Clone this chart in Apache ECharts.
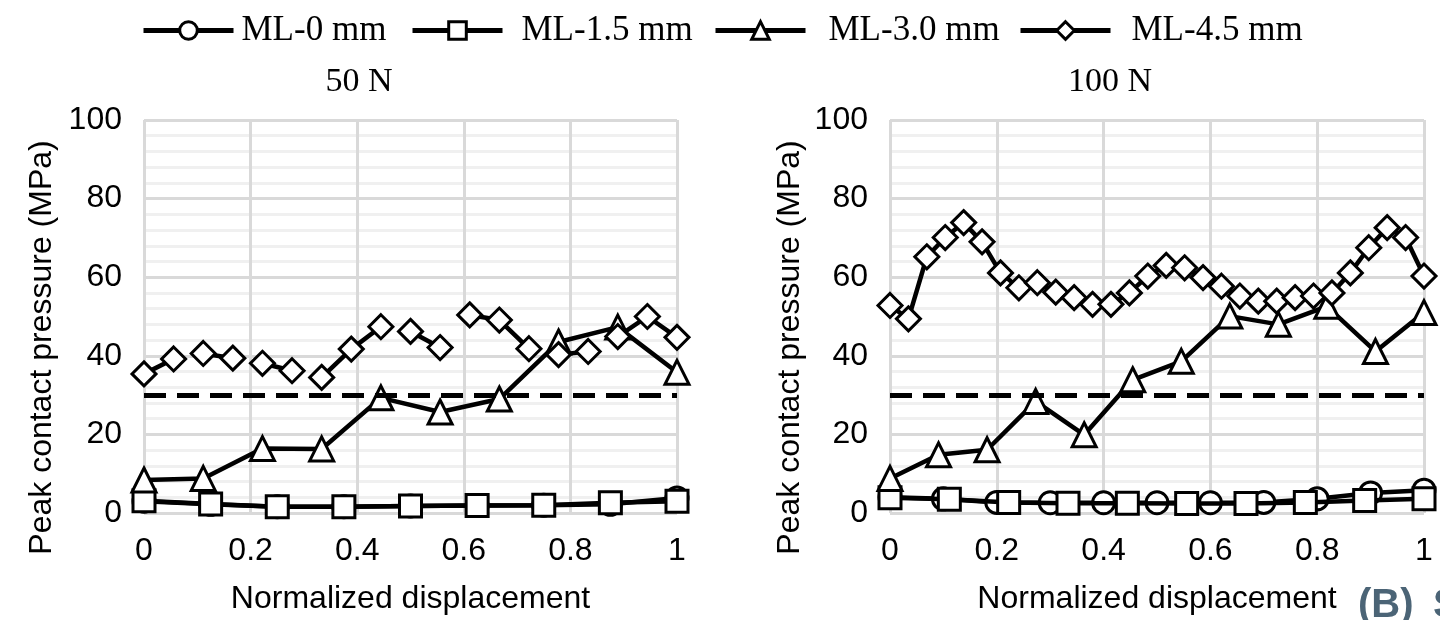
<!DOCTYPE html>
<html>
<head>
<meta charset="utf-8">
<script src="https://cdn.jsdelivr.net/npm/echarts@6/dist/echarts.min.js"></script>
<style>
  html, body { margin: 0; padding: 0; background: #fff; }
  #chart { width: 1440px; height: 620px; }
</style>
</head>
<body>
<div id="chart"></div>
<script>
var chartDom = document.getElementById('chart');
var myChart = echarts.init(chartDom);

var seriesNames = ['ML-0 mm', 'ML-1.5 mm', 'ML-3.0 mm', 'ML-4.5 mm'];
var panelTitles = ['50 N', '100 N'];
var xTicks = [0, 0.2, 0.4, 0.6, 0.8, 1];
var threshold = 30;

// 50 N panel
var ml0_50 = [3.0, 2.2, 1.6, 1.6, 1.8, 1.9, 2.0, 2.2, 3.8];
var ml15_50 = [3.1, 2.3, 1.6, 1.6, 1.8, 1.9, 2.0, 2.6, 3.0];
var ml30_50 = [8.4, 8.8, 16.4, 16.3, 29.3, 25.7, 29.0, 43.5, 47.3, 35.8];
var ml45_50 = [35.4, 39.2, 40.6, 39.4, 38.1, 36.2, 34.5, 41.7, 47.4, 46.2,
  42.1, 50.4, 49.1, 41.8, 40.3, 41.1, 44.9, 50.0, 44.7];
// indices where the ML-4.5 line is broken before the point
var ml45_50_breaks = [2, 4, 6, 9, 11, 14, 16];

// 100 N panel
var ml0_100 = [4.0, 3.6, 2.7, 2.6, 2.6, 2.6, 2.6, 2.7, 3.6, 5.1, 5.8];
var ml15_100 = [3.9, 3.5, 2.7, 2.5, 2.5, 2.4, 2.4, 2.7, 3.2, 3.6];
var ml30_100 = [8.8, 14.8, 16.1, 28.4, 19.9, 33.9, 38.6, 50.1, 48.0, 52.6, 41.1, 51.0];
var ml45_100 = [52.8, 49.4, 65.2, 70.1, 73.9, 69.0, 61.1, 57.3, 58.6, 56.2,
  54.8, 53.1, 53.1, 56.0, 60.3, 63.0, 62.4, 59.9, 57.7, 55.2,
  53.9, 53.9, 54.8, 55.2, 56.0, 61.1, 67.5, 72.6, 70.1, 60.3];

// values are evenly spaced over the normalized displacement 0..1
function toPairs(vals, breaks) {
  var out = [];
  var n = vals.length - 1;
  vals.forEach(function (v, i) {
    if (breaks && breaks.indexOf(i) >= 0) out.push(['-', '-']);
    out.push([i / n, v]);
  });
  return out;
}

var symbols = ['circle', 'rect', 'triangle', 'diamond'];
var symbolSizes = [22, 22, 24, 24];
var fontAxis = 'Liberation Sans';
var fontSerif = 'Liberation Serif';

function makeSeries(name, idx, data, panel) {
  var s = {
    name: name,
    type: 'line',
    xAxisIndex: panel,
    yAxisIndex: panel,
    data: data,
    symbol: symbols[idx],
    symbolSize: symbolSizes[idx],
    showAllSymbol: true,
    connectNulls: false,
    clip: false,
    lineStyle: { color: '#000', width: 4.5 },
    itemStyle: { color: '#fff', borderColor: '#000', borderWidth: 3 },
    z: 2 + idx
  };
  if (idx === 0) {
    s.markLine = {
      silent: true,
      symbol: ['none', 'none'],
      label: { show: false },
      lineStyle: { color: '#000', width: 5, type: [22, 11] },
      data: [{ yAxis: threshold }]
    };
  }
  return s;
}

function xAxis(panel) {
  return {
    type: 'value',
    gridIndex: panel,
    min: 0, max: 1, interval: 0.2,
    name: 'Normalized displacement',
    nameLocation: 'middle',
    nameGap: 70,
    nameTextStyle: { fontFamily: fontAxis, fontSize: 32, color: '#000' },
    axisLine: { show: false },
    axisTick: { show: false },
    axisLabel: {
      fontFamily: fontAxis, fontSize: 32, color: '#000', margin: 22,
      formatter: function (v) { return xTicks.indexOf(v) >= 0 ? String(v) : ''; }
    },
    splitLine: { show: true, lineStyle: { color: '#d9d9d9', width: 3 } }
  };
}

function yAxis(panel, gap) {
  return {
    type: 'value',
    gridIndex: panel,
    min: 0, max: 100, interval: 20,
    name: 'Peak contact pressure (MPa)',
    nameLocation: 'middle',
    nameGap: gap,
    nameTextStyle: { fontFamily: fontAxis, fontSize: 32, color: '#000', padding: [0, 62, 0, 0] },
    axisLine: { show: false },
    axisTick: { show: false },
    axisLabel: { fontFamily: fontAxis, fontSize: 32, color: '#000', margin: 22 },
    splitLine: { show: true, lineStyle: { color: '#d9d9d9', width: 3 } },
    minorTick: { show: false, splitNumber: 5 },
    minorSplitLine: { show: true, lineStyle: { color: '#f0f0f0', width: 3 } }
  };
}

// one legend per item so each can sit where it does in the figure
var legendLeft = [136, 405, 708, 1013];
var legendPad = [3, 14, 18, 16];
var legends = seriesNames.map(function (name, i) {
  return {
    data: [name],
    left: legendLeft[i],
    top: 8,
    itemWidth: 90,
    itemHeight: 22,
    lineStyle: { width: 5, color: '#000' },
    itemStyle: { borderWidth: 3 },
    textStyle: { fontFamily: fontSerif, fontSize: 35, color: '#000', padding: [0, 0, 0, legendPad[i]] }
  };
});

var titleStyle = { fontFamily: fontSerif, fontSize: 34, fontWeight: 'normal', color: '#000' };
var tagStyle = { fontFamily: fontAxis, fontSize: 40, fontWeight: 'bold', fill: '#4b6476' };

var option = {
  animation: false,
  backgroundColor: '#fff',
  title: [
    { text: panelTitles[0], left: 354, top: 60, textAlign: 'center', textStyle: titleStyle },
    { text: panelTitles[1], left: 1105, top: 60, textAlign: 'center', textStyle: titleStyle }
  ],
  legend: legends,
  graphic: [
    { type: 'text', left: 1358, top: 586, style: Object.assign({ text: '(B)' }, tagStyle) },
    { type: 'text', left: 1433, top: 586, style: Object.assign({ text: 'S' }, tagStyle) }
  ],
  grid: [
    { left: 144, width: 533, top: 120, height: 395 },
    { left: 890, width: 534, top: 120, height: 394 }
  ],
  xAxis: [xAxis(0), xAxis(1)],
  yAxis: [yAxis(0, 86), yAxis(1, 84)],
  series: [
    makeSeries(seriesNames[0], 0, toPairs(ml0_50), 0),
    makeSeries(seriesNames[1], 1, toPairs(ml15_50), 0),
    makeSeries(seriesNames[2], 2, toPairs(ml30_50), 0),
    makeSeries(seriesNames[3], 3, toPairs(ml45_50, ml45_50_breaks), 0),
    makeSeries(seriesNames[0], 0, toPairs(ml0_100), 1),
    makeSeries(seriesNames[1], 1, toPairs(ml15_100), 1),
    makeSeries(seriesNames[2], 2, toPairs(ml30_100), 1),
    makeSeries(seriesNames[3], 3, toPairs(ml45_100), 1)
  ]
};

option && myChart.setOption(option);
</script>
</body>
</html>
